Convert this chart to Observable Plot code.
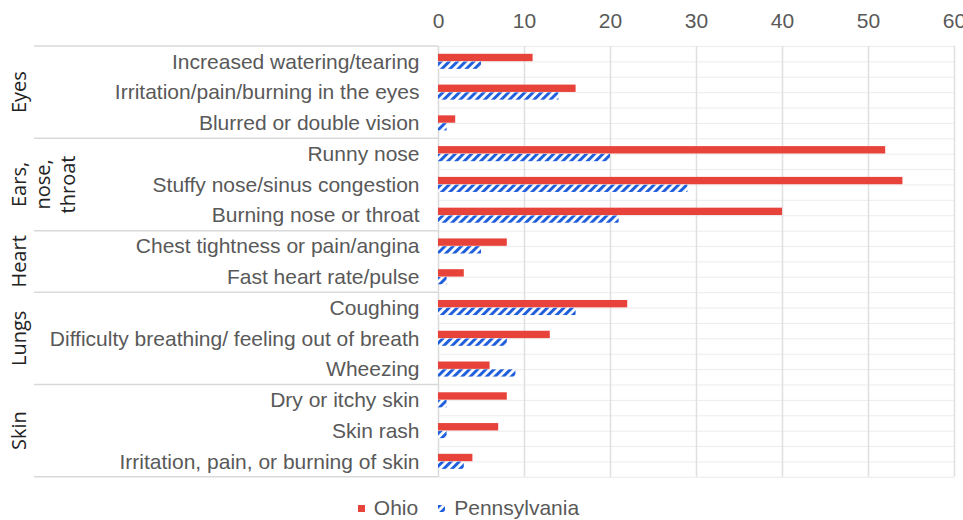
<!DOCTYPE html>
<html><head><meta charset="utf-8">
<script src="https://cdn.jsdelivr.net/npm/d3@7"></script>
<script src="https://cdn.jsdelivr.net/npm/@observablehq/plot@0.6"></script>
<style>
html,body{margin:0;background:#fff;overflow:hidden;}
#chart{width:963px;height:520px;position:relative;}
#chart > svg{display:block;}
#legend{height:24px;padding-top:6px;padding-right:26px;display:flex;justify-content:center;align-items:center;font:21px/24px "Liberation Sans",Arial,sans-serif;color:#595959;}
#legend .item{display:flex;align-items:center;margin:0 10px;}
#legend svg{margin-right:9px;display:block;}
</style>
</head><body><div id="chart"></div>
<script>
const symptoms = [
  "Increased watering/tearing",
  "Irritation/pain/burning in the eyes",
  "Blurred or double vision",
  "Runny nose",
  "Stuffy nose/sinus congestion",
  "Burning nose or throat",
  "Chest tightness or pain/angina",
  "Fast heart rate/pulse",
  "Coughing",
  "Difficulty breathing/ feeling out of breath",
  "Wheezing",
  "Dry or itchy skin",
  "Skin rash",
  "Irritation, pain, or burning of skin"
];
const symptomGroup = [0,0,0,1,1,1,2,2,3,3,3,4,4,4];
const groupNames = ["Eyes", "Ears,\nnose,\nthroat", "Heart", "Lungs", "Skin"];
const ohio =         [11, 16, 2, 52, 54, 40, 8, 3, 22, 13, 6, 8, 7, 4];
const pennsylvania = [ 5, 14, 1, 20, 29, 21, 5, 1, 16,  8, 9, 1, 1, 3];
const xTicks = [0, 10, 20, 30, 40, 50, 60];
const seriesNames = ["Ohio", "Pennsylvania"];

const OHIO = "#e8433a", PA = "#1f5fdc", GRID = "#e0e0e0", GRID2 = "#ececec", TXT = "#595959";
const FONT = '"Liberation Sans", Arial, sans-serif';
const W = 963, H = 490, mTop = 46, mBottom = H - 476.8, mLeft = 438, mRight = 9;
const rowH = (H - mBottom - mTop) / symptoms.length;

const rows = symptoms.map((s, i) => ({symptom: s, ohio: ohio[i], pa: pennsylvania[i]}));

const defs = () => {
  const d = d3.create("svg:defs");
  const p = d.append("pattern").attr("id", "paPattern").attr("patternUnits", "userSpaceOnUse")
    .attr("width", 5.8).attr("height", 5.8).attr("patternTransform", "rotate(45)");
  p.append("rect").attr("width", 5.8).attr("height", 5.8).attr("fill", "#fff");
  p.append("rect").attr("x", 0).attr("width", 3).attr("height", 5.8).attr("fill", PA);
  return d.node();
};

const plot = Plot.plot({
  width: W, height: H,
  marginTop: mTop, marginBottom: mBottom, marginLeft: mLeft, marginRight: mRight,
  style: {fontFamily: FONT, fontSize: "21px", color: TXT, background: "#fff", overflow: "visible"},
  x: {domain: [0, 60], axis: null},
  y: {domain: symptoms, padding: 0, round: false, axis: null},
  marks: [
    defs,
    Plot.ruleY(rows, {y: "symptom", stroke: GRID2, strokeWidth: 1}),
    Plot.ruleY(rows, {y: "symptom", dy: -rowH / 2, stroke: GRID2, strokeWidth: 1}),
    Plot.ruleY([symptoms[symptoms.length - 1]], {dy: rowH / 2, stroke: GRID2, strokeWidth: 1}),
    Plot.ruleX(xTicks.slice(1), {stroke: GRID, strokeWidth: 1.5}),
    Plot.ruleX([0], {stroke: "#d9d9d9", strokeWidth: 1.5}),
    Plot.barX(rows, {y: "symptom", x: "ohio", fill: OHIO, insetTop: 7.8, insetBottom: 15.6}),
    Plot.barX(rows, {y: "symptom", x: "pa", fill: "url(#paPattern)", insetTop: 15.6, insetBottom: 7.9}),
    Plot.axisX({anchor: "top", ticks: xTicks, tickSize: 0, tickPadding: 19, fontSize: 21, fill: TXT, label: null}),
    Plot.axisY({anchor: "left", tickSize: 0, tickPadding: 19, fontSize: 21, fill: TXT, label: null})
  ]
});

document.getElementById("chart").appendChild(plot);
const ys = plot.scale("y");
const svg = d3.select(plot);

const groups = groupNames.map((g, gi) => {
  const idx = symptomGroup.map((v, i) => v === gi ? i : -1).filter(i => i >= 0);
  const y0 = ys.apply(symptoms[idx[0]]);
  const y1 = ys.apply(symptoms[idx[idx.length - 1]]) + ys.bandwidth;
  return {name: g, y0, y1, mid: (y0 + y1) / 2};
});

// group separators extending into the label area
const sepYs = groups.map(g => g.y0).concat([groups[groups.length - 1].y1]);
svg.append("g").selectAll("line").data(sepYs).join("line")
  .attr("x1", 34).attr("x2", mLeft).attr("y1", d => d).attr("y2", d => d)
  .attr("stroke", "#d9d9d9").attr("stroke-width", 1.5);

// rotated group labels
const gl = svg.append("g").attr("font-family", '"Open Sans", sans-serif').attr("font-size", 20).attr("fill", "#222");
groups.forEach(g => {
  const lines = g.name.split("\n");
  const t = gl.append("text").attr("text-anchor", "middle")
    .attr("transform", `translate(25.5,${g.mid}) rotate(-90)`);
  lines.forEach((ln, k) => t.append("tspan").attr("x", 0).attr("y", k * 24.5).text(ln));
});

const legend = d3.select("#chart").append("div").attr("id", "legend");
const it1 = legend.append("div").attr("class", "item");
it1.append("svg").attr("width", 7).attr("height", 7).append("rect").attr("width", 7).attr("height", 7).attr("fill", OHIO);
it1.append("span").text(seriesNames[0]);
const it2 = legend.append("div").attr("class", "item");
const s2 = it2.append("svg").attr("width", 7).attr("height", 7);
const p2 = s2.append("defs").append("pattern").attr("id", "paLeg").attr("patternUnits", "userSpaceOnUse")
  .attr("width", 5.8).attr("height", 5.8).attr("patternTransform", "rotate(45)");
p2.append("rect").attr("width", 5.8).attr("height", 5.8).attr("fill", "#fff");
p2.append("rect").attr("width", 3).attr("height", 5.8).attr("fill", PA);
s2.append("rect").attr("width", 7).attr("height", 7).attr("fill", "url(#paLeg)");
it2.append("span").text(seriesNames[1]);
</script></body></html>
